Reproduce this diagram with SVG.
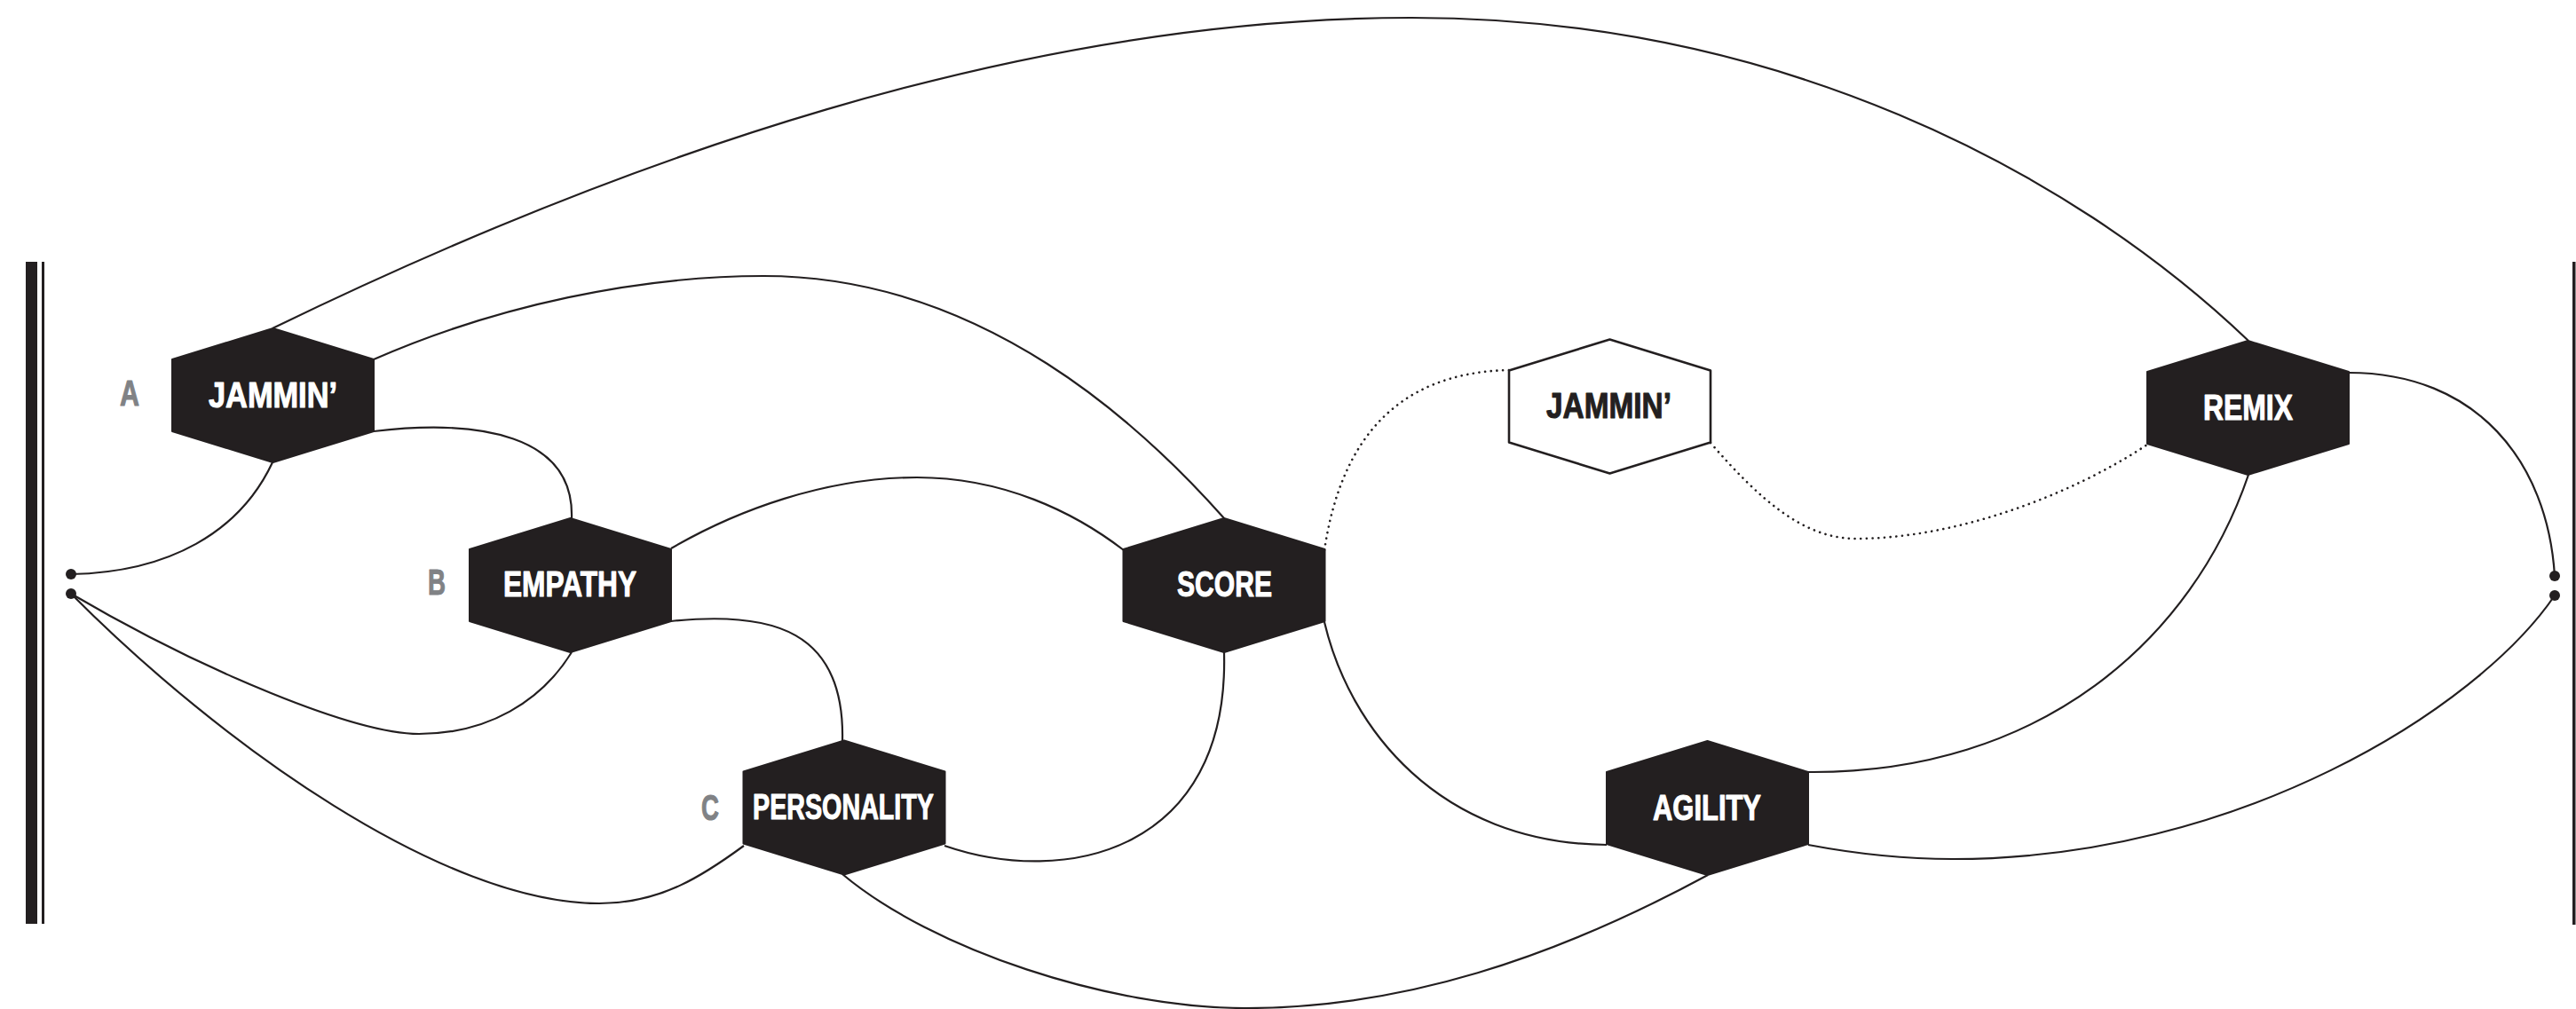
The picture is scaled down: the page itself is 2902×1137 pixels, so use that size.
<svg xmlns="http://www.w3.org/2000/svg" width="2902" height="1137" viewBox="0 0 2902 1137">
<style>
.bg{fill:#ffffff}
.bar{fill:#231f20}
.hex{fill:#231f20;stroke:#231f20;stroke-width:2;stroke-linejoin:round}
.hexo{fill:#ffffff;stroke:#231f20;stroke-width:2.6;stroke-linejoin:round}
.t{font-family:"Liberation Sans",Arial,sans-serif;font-weight:bold;font-size:41px;text-anchor:middle;fill:#ffffff;stroke:#ffffff;stroke-width:1.1;stroke-linejoin:round}
.to{fill:#231f20;stroke:#231f20}
.lab{font-family:"Liberation Sans",Arial,sans-serif;font-weight:bold;font-size:40px;text-anchor:middle;fill:#808285;stroke:#808285;stroke-width:1;stroke-linejoin:round}
.c{fill:none;stroke:#231f20;stroke-width:2.2}
.d{fill:none;stroke:#231f20;stroke-width:2.6;stroke-linecap:round;stroke-dasharray:0.1 6.6}
.dot{fill:#231f20}
</style>
<defs>
<polygon id="hx" points="0,-75.5 113.5,-40.5 113.5,40.5 0,75.5 -113.5,40.5 -113.5,-40.5"/>
</defs>
<rect class="bg" x="0" y="0" width="2902" height="1137"/>
<g id="frame">
<rect class="bar" x="29" y="295" width="13" height="746"/>
<rect class="bar" x="47" y="295" width="3" height="746"/>
<rect class="bar" x="2898" y="295" width="3.5" height="747"/>
</g>
<g id="connectors">
<path class="c" d="M307,370 C700,179 1150,20 1590,20 C2000,20 2330,190 2533,384"/>
<path class="c" d="M421,405 C560,344 720,311 860,311 C1110,311 1290,484 1379,584"/>
<path class="c" d="M421,486 C540,472 647,490 644,584"/>
<path class="c" d="M307,521 C270,600 190,645 80,647"/>
<path class="c" d="M756,618 C830,575 930,538 1033,538 C1130,538 1210,577 1266,620"/>
<path class="c" d="M756,700 C870,688 952,710 949,835"/>
<path class="c" d="M644,735 C610,790 550,827 472,827 C400,827 230,757 80,669"/>
<path class="c" d="M80,669 C250,840 500,1018 675,1018 C745,1018 793,986 838,953"/>
<path class="c" d="M1064,953 C1200,1000 1385,960 1379,735"/>
<path class="c" d="M949,985 C1050,1070 1250,1136 1403,1136 C1580,1136 1750,1080 1924,986"/>
<path class="c" d="M1492,701 C1520,820 1620,950 1810,952"/>
<path class="d" d="M1492,620 C1510,500 1570,420 1700,417"/>
<path class="d" d="M1927,499 C1980,560 2030,607 2091,607 C2200,607 2330,560 2419,501"/>
<path class="c" d="M2533,535 C2470,720 2300,872 2037,870"/>
<path class="c" d="M2646,420 C2790,420 2870,520 2878,649"/>
<path class="c" d="M2037,952 C2090,962 2140,968 2200,968 C2520,968 2790,800 2878,671"/>
<circle class="dot" cx="80" cy="647" r="6"/>
<circle class="dot" cx="80" cy="669" r="6"/>
<circle class="dot" cx="2878" cy="649" r="6"/>
<circle class="dot" cx="2878" cy="671" r="6"/>
</g>
<g id="node-jammin-a">
<use href="#hx" class="hex" x="307.5" y="445.5"/>
<text class="t" x="307.5" y="459" textLength="145" lengthAdjust="spacingAndGlyphs">JAMMIN’</text>
<text class="lab" x="146" y="457" textLength="22" lengthAdjust="spacingAndGlyphs">A</text>
</g>
<g id="node-empathy">
<use href="#hx" class="hex" x="642.5" y="659.5"/>
<text class="t" x="642" y="672" textLength="150" lengthAdjust="spacingAndGlyphs">EMPATHY</text>
<text class="lab" x="492" y="670" textLength="20" lengthAdjust="spacingAndGlyphs">B</text>
</g>
<g id="node-personality">
<use href="#hx" class="hex" x="951" y="910"/>
<text class="t" x="950" y="923" textLength="204" lengthAdjust="spacingAndGlyphs">PERSONALITY</text>
<text class="lab" x="800" y="924" textLength="20" lengthAdjust="spacingAndGlyphs">C</text>
</g>
<g id="node-score">
<use href="#hx" class="hex" x="1379" y="659.5"/>
<text class="t" x="1379.5" y="672" textLength="107" lengthAdjust="spacingAndGlyphs">SCORE</text>
</g>
<g id="node-jammin-b">
<use href="#hx" class="hexo" x="1813.5" y="458"/>
<text class="t to" x="1812.5" y="471" textLength="141" lengthAdjust="spacingAndGlyphs">JAMMIN’</text>
</g>
<g id="node-remix">
<use href="#hx" class="hex" x="2532.5" y="459.5"/>
<text class="t" x="2532.5" y="473" textLength="101" lengthAdjust="spacingAndGlyphs">REMIX</text>
</g>
<g id="node-agility">
<use href="#hx" class="hex" x="1923.5" y="910.5"/>
<text class="t" x="1923" y="924" textLength="122" lengthAdjust="spacingAndGlyphs">AGILITY</text>
</g>
</svg>
